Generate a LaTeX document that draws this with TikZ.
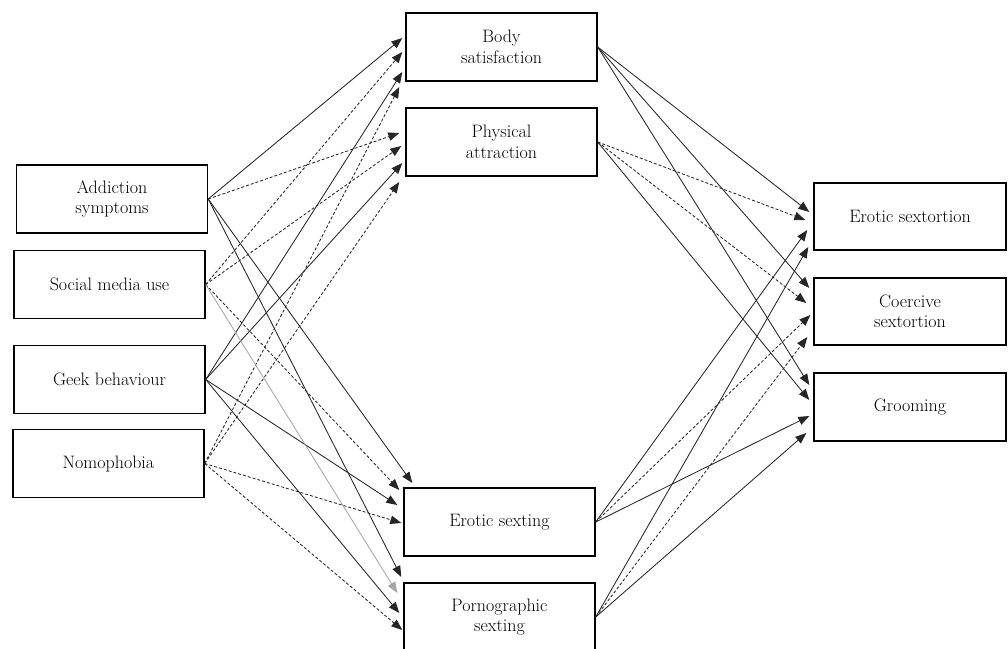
\documentclass[tikz,border=0pt]{standalone}
\usepackage{fontspec}
\usetikzlibrary{arrows.meta,calc}
\begin{document}
\begin{tikzpicture}[x=1pt,y=-1pt,
  box/.style={draw=black, line width=1.4pt, minimum width=191pt, minimum height=68pt,
    inner sep=0pt, align=center, font=\fontsize{18}{20.5}\selectfont},
  link/.style={draw=black!85, line width=0.85pt, -{Triangle[length=11pt,width=8.5pt]}},
  dlink/.style={link, dash pattern=on 3pt off 2pt},
  glink/.style={link, draw=black!35}]
\useasboundingbox (0,0) rectangle (1008,648);
% left column
\node[box] (as) at (112,199) {Addiction\\symptoms};
\node[box] (sm) at (109.5,284.5) {Social media use};
\node[box] (gb) at (109.5,379.5) {Geek behaviour};
\node[box] (no) at (108.5,463.5) {Nomophobia};
% middle column
\node[box] (bs) at (501.5,47) {Body\\satisfaction};
\node[box] (pa) at (501.5,142) {Physical\\attraction};
\node[box] (es) at (499.5,522) {Erotic sexting};
\node[box] (ps) at (499.5,617) {Pornographic\\sexting};
% right column
\node[box, minimum width=192pt, minimum height=67pt] (ex) at (910,216.5) {Erotic sextortion};
\node[box, minimum width=192pt, minimum height=67pt] (cs) at (910,311.5) {Coercive\\sextortion};
\node[box, minimum width=192pt] (gr) at (910,407) {Grooming};
% left -> top middle
\draw[link]  (as.east) -- ($(bs.west)+(-3,-9)$);
\draw[dlink] (sm.east) -- ($(bs.west)+(-3,5)$);
\draw[link]  (gb.east) -- ($(bs.west)+(-3,25)$);
\draw[dlink] (no.east) -- ($(bs.west)+(-6,40)$);
\draw[dlink] (as.east) -- ($(pa.west)+(-6,-9)$);
\draw[dlink] (sm.east) -- ($(pa.west)+(-4,4)$);
\draw[link]  (gb.east) -- ($(pa.west)+(-3,21)$);
\draw[dlink] (no.east) -- ($(pa.west)+(-6,40)$);
% left -> bottom middle
\draw[link]  (as.east) -- ($(es.west)+(9,-39)$);
\draw[dlink] (sm.east) -- ($(es.west)+(-4,-32)$);
\draw[link]  (gb.east) -- ($(es.west)+(-6,-17)$);
\draw[dlink] (no.east) -- ($(es.west)+(-2,1)$);
\draw[link]  (as.east) -- ($(ps.west)+(-2,-40)$);
\draw[glink] (sm.east) -- ($(ps.west)+(-6,-24)$);
\draw[link]  (gb.east) -- ($(ps.west)+(-4,-4)$);
\draw[dlink] (no.east) -- ($(ps.west)+(-1,13)$);
% middle -> right
\draw[link]  (bs.east) -- ($(ex.west)+(-4,-4.5)$);
\draw[link]  (bs.east) -- ($(cs.west)+(-4,-23.5)$);
\draw[link]  (bs.east) -- ($(gr.west)+(-4,-22)$);
\draw[dlink] (pa.east) -- ($(ex.west)+(-8,3.5)$);
\draw[dlink] (pa.east) -- ($(cs.west)+(-7,-8.5)$);
\draw[link]  (pa.east) -- ($(gr.west)+(-4,-7)$);
\draw[link]  (es.east) -- ($(ex.west)+(-6,13.5)$);
\draw[dlink] (es.east) -- ($(cs.west)+(-3,3.5)$);
\draw[link]  (es.east) -- ($(gr.west)+(-4,9)$);
\draw[link]  (ps.east) -- ($(ex.west)+(-5,30.5)$);
\draw[dlink] (ps.east) -- ($(cs.west)+(-6,25.5)$);
\draw[link]  (ps.east) -- ($(gr.west)+(-7,26)$);
\end{tikzpicture}
\end{document}
